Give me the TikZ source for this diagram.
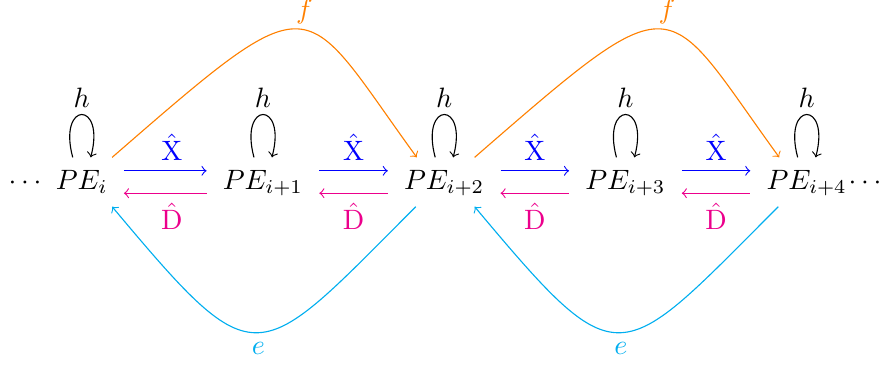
\documentclass[tikz,border=0pt]{standalone}
\definecolor{fcol}{RGB}{255,128,0}
\definecolor{dcol}{RGB}{236,0,140}
\definecolor{ecol}{RGB}{0,174,239}
\begin{document}
\begin{tikzpicture}[>=to,
    pe/.style={inner xsep=5.6pt, inner ysep=3.5pt, text height=7.6pt, text depth=2.6pt}]
    \useasboundingbox (-1.025,-2.346) rectangle (10.054,2.284);
    % Các nút PE
    \foreach \k/\s in {0/i,1/i+1,2/i+2,3/i+3,4/i+4} {
        \node[pe] (p\k) at (2.274*\k,0) {$PE_{\s}$};
    }
    \node[pe, inner sep=0pt] (dl) at (-0.711,0) {$\cdots$};
    \node[pe, inner sep=0pt] (dr) at (9.828,0) {$\cdots$};
    % Vòng lặp h
    \foreach \k in {0,...,4} {
        \draw[->] (p\k.110) .. controls +(105:0.74) and +(75:0.74) .. (p\k.70)
            node[midway, above, inner sep=2.5pt] {$h$};
    }
    % Mũi tên X và D
    \foreach \a/\b/\t in {0/1/0.58,1/2/0.5,2/3/0.5,3/4/0.5} {
        \draw[->, blue] ([yshift=4pt]p\a.east) -- ([yshift=4pt]p\b.west)
            node[pos=\t, above] {$\hat{\mathrm{X}}$};
        \draw[<-, dcol] ([yshift=-4pt]p\a.east) -- ([yshift=-4pt]p\b.west)
            node[pos=\t, below] {$\hat{\mathrm{D}}$};
    }
    % Cung f và e
    \foreach \a/\b in {0/2,2/4} {
        \draw[->, fcol] (p\a.39) .. controls +(41:3.45) and +(126:2.51) .. (p\b.138)
            node[pos=0.53, above, inner sep=1.8pt] {$f$};
        \draw[->, ecol] (p\b.221) .. controls +(225:2.86) and +(310:2.86) .. (p\a.321)
            node[pos=0.5, below] {$e$};
    }
\end{tikzpicture}
\end{document}
